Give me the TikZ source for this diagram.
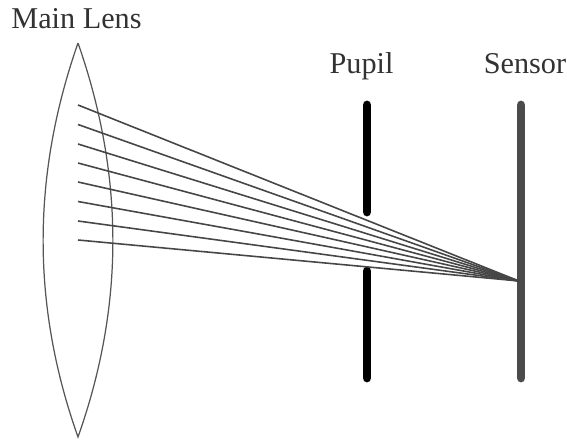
\documentclass[tikz,border=0pt]{standalone}
\usepackage{fontspec}
\setmainfont{Liberation Serif}
\usetikzlibrary{calc,positioning}

\begin{document}
\begin{tikzpicture}[thick]
  % Colours
  \definecolor{lensline}{RGB}{85, 85, 85}
  \definecolor{rayline}{RGB}{70, 70, 70}
  \definecolor{sensorbar}{RGB}{75, 75, 75}
  \definecolor{labeltext}{RGB}{50, 50, 50}

  % Styles
  \tikzset{
    stoplabel/.style={font=\fontsize{17.2}{20}\selectfont, text=labeltext, inner sep=0pt, anchor=base},
    barline/.style={line width=5pt, line cap=round},
    rayray/.style={rayline, line width=0.9pt}
  }

  \useasboundingbox (0, 0) rectangle (11.34, 8.82);

  % Main coordinates
  \coordinate (LensTop) at (1.56, 7.96);
  \coordinate (LensBottom) at (1.56, 0.08);
  \coordinate (Focus) at (10.38, 3.2);

  % --- Main lens ---
  \draw[lensline, line width=0.7pt] (LensTop)
    .. controls (0.63, 5.3) and (0.63, 2.7) .. (LensBottom)
    .. controls (2.49, 2.7) and (2.49, 5.3) .. (LensTop);

  % --- Pupil and sensor ---
  \draw[barline, black] (7.34, 6.72) -- (7.34, 4.58);
  \draw[barline, black] (7.34, 3.40) -- (7.34, 1.26);
  \draw[barline, sensorbar] (10.42, 6.72) -- (10.42, 1.26);

  % --- Rays ---
  \foreach \i/\y in {1/6.72, 2/6.33, 3/5.94, 4/5.56, 5/5.18, 6/4.79, 7/4.40, 8/4.02} {
    \coordinate (Ray\i) at (1.56, \y);
    \draw[rayray] (Ray\i) -- (Focus);
  }

  % --- Labels ---
  \node[stoplabel] (MainLens) at (1.53, 8.26) {Main Lens};
  \node[stoplabel] (Pupil) at (7.23, 7.36) {Pupil};
  \node[stoplabel] (Sensor) at (10.5, 7.36) {Sensor};
\end{tikzpicture}
\end{document}
